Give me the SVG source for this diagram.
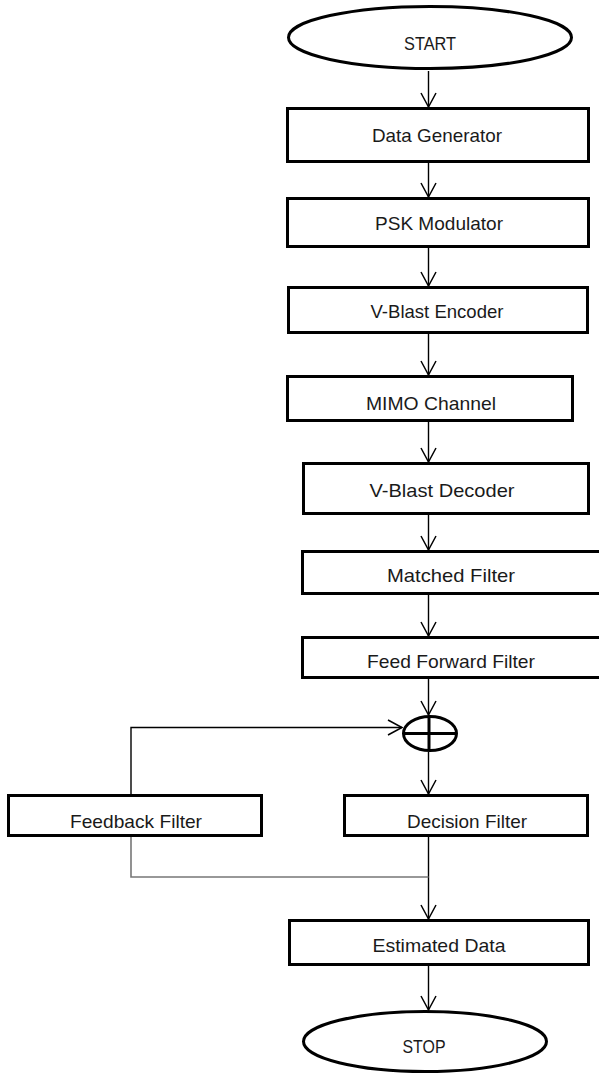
<svg xmlns="http://www.w3.org/2000/svg" width="599" height="1075" viewBox="0 0 599 1075">
<defs>
<style>
.box{fill:#fff;stroke:#000;stroke-width:3}
.t{font-family:"Liberation Sans",Arial,sans-serif;font-size:19px;fill:#1a1a1a;text-anchor:middle}
.c{fill:none;stroke:#000;stroke-width:1.4}
.g{fill:none;stroke:#777;stroke-width:1.6}
</style>
<marker id="arr" markerUnits="userSpaceOnUse" markerWidth="20" markerHeight="20" viewBox="0 0 20 20" refX="16" refY="10" orient="auto">
<path d="M2,2.5 L16,10 L2,17.5" fill="none" stroke="#000" stroke-width="1.5"/>
</marker>
</defs>
<rect width="599" height="1075" fill="#fff"/>
<g id="connectors">
<line class="c" x1="428.5" y1="71" x2="428.5" y2="107" marker-end="url(#arr)"/>
<line class="c" x1="428.5" y1="163" x2="428.5" y2="197" marker-end="url(#arr)"/>
<line class="c" x1="428.5" y1="248" x2="428.5" y2="286" marker-end="url(#arr)"/>
<line class="c" x1="428.5" y1="334" x2="428.5" y2="375" marker-end="url(#arr)"/>
<line class="c" x1="428.5" y1="422" x2="428.5" y2="462" marker-end="url(#arr)"/>
<line class="c" x1="428.5" y1="515" x2="428.5" y2="550" marker-end="url(#arr)"/>
<line class="c" x1="428.5" y1="595" x2="428.5" y2="636" marker-end="url(#arr)"/>
<line class="c" x1="428.5" y1="679" x2="428.5" y2="715" marker-end="url(#arr)"/>
<line class="c" x1="428.5" y1="752" x2="428.5" y2="794" marker-end="url(#arr)"/>
<line class="c" x1="428.5" y1="837" x2="428.5" y2="919" marker-end="url(#arr)"/>
<line class="c" x1="428.5" y1="966" x2="428.5" y2="1010" marker-end="url(#arr)"/>
<polyline class="c" points="131,794 131,727.5 402,727.5" stroke="#333" marker-end="url(#arr)"/>
<polyline class="g" points="131,837 131,877 428.5,877"/>
</g>
<g id="start">
<ellipse cx="430" cy="37.5" rx="141.5" ry="31" fill="#fff" stroke="#000" stroke-width="3"/>
<text class="t" x="430" y="50" textLength="52" lengthAdjust="spacingAndGlyphs">START</text>
</g>
<g id="data-generator">
<rect class="box" x="287.5" y="108.5" width="301" height="53"/>
<text class="t" x="437" y="142" textLength="130" lengthAdjust="spacingAndGlyphs">Data Generator</text>
</g>
<g id="psk-modulator">
<rect class="box" x="287.5" y="198.5" width="301" height="48"/>
<text class="t" x="439" y="230" textLength="128" lengthAdjust="spacingAndGlyphs">PSK Modulator</text>
</g>
<g id="vblast-encoder">
<rect class="box" x="288.5" y="287.5" width="299" height="45"/>
<text class="t" x="437" y="318" textLength="133" lengthAdjust="spacingAndGlyphs">V-Blast Encoder</text>
</g>
<g id="mimo-channel">
<rect class="box" x="287.5" y="376.5" width="285" height="44"/>
<text class="t" x="431" y="410" textLength="130" lengthAdjust="spacingAndGlyphs">MIMO Channel</text>
</g>
<g id="vblast-decoder">
<rect class="box" x="303.5" y="463.5" width="285" height="50"/>
<text class="t" x="442" y="497" textLength="145" lengthAdjust="spacingAndGlyphs">V-Blast Decoder</text>
</g>
<g id="matched-filter">
<rect class="box" x="302.5" y="551.5" width="300" height="42"/>
<text class="t" x="451" y="582" textLength="128" lengthAdjust="spacingAndGlyphs">Matched Filter</text>
</g>
<g id="feed-forward-filter">
<rect class="box" x="302.5" y="637.5" width="300" height="40"/>
<text class="t" x="451" y="668" textLength="168" lengthAdjust="spacingAndGlyphs">Feed Forward Filter</text>
</g>
<g id="summer">
<ellipse cx="430" cy="733.5" rx="26.5" ry="17" fill="#fff" stroke="#000" stroke-width="3"/>
<line x1="403" y1="733.5" x2="457" y2="733.5" stroke="#000" stroke-width="3"/>
<line x1="429" y1="716" x2="429" y2="751" stroke="#000" stroke-width="3"/>
</g>
<g id="feedback-filter">
<rect class="box" x="8.5" y="795.5" width="253" height="40"/>
<text class="t" x="136" y="828" textLength="132" lengthAdjust="spacingAndGlyphs">Feedback Filter</text>
</g>
<g id="decision-filter">
<rect class="box" x="344.5" y="795.5" width="243" height="40"/>
<text class="t" x="467" y="828" textLength="120" lengthAdjust="spacingAndGlyphs">Decision Filter</text>
</g>
<g id="estimated-data">
<rect class="box" x="289.5" y="920.5" width="299" height="44"/>
<text class="t" x="439" y="952" textLength="133" lengthAdjust="spacingAndGlyphs">Estimated Data</text>
</g>
<g id="stop">
<ellipse cx="425" cy="1041.5" rx="121.5" ry="30" fill="#fff" stroke="#000" stroke-width="3"/>
<text class="t" x="424" y="1053" textLength="43" lengthAdjust="spacingAndGlyphs">STOP</text>
</g>
</svg>
